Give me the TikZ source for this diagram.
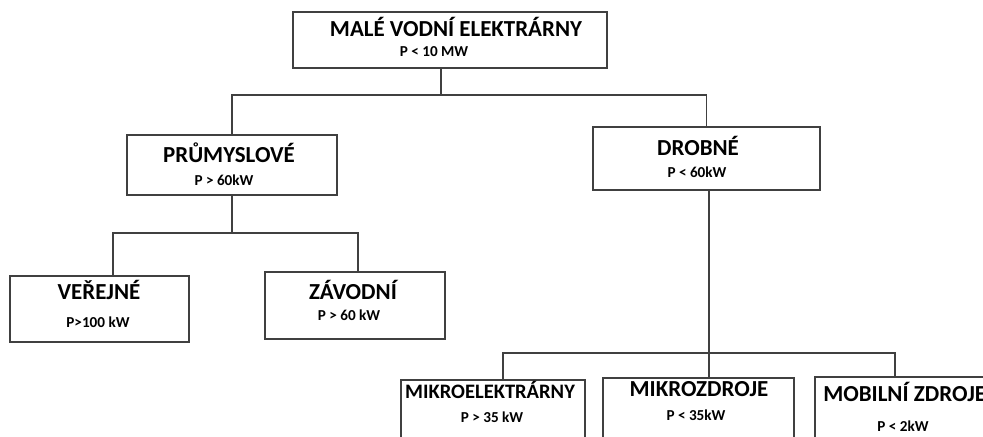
\documentclass[tikz,border=0pt]{standalone}
\usepackage{fontspec}
\setmainfont{Carlito}
\usepackage{xcolor}
\usepackage{tikz}
\definecolor{boxline}{HTML}{404040}
\tikzset{
  levelbox/.style={draw=boxline, line width=1pt, rectangle, fill=white, inner sep=0pt},
  titletext/.style={inner sep=0pt, font=\fontsize{16.3pt}{19pt}\selectfont\bfseries},
  powertext/.style={inner sep=0pt, font=\fontsize{10.8pt}{12pt}\selectfont\bfseries},
  wire/.style={draw=boxline, line width=1pt}
}

\begin{document}
\begin{tikzpicture}[x=0.025cm, y=-0.025cm]%
\useasboundingbox (0, 0) rectangle (983, 436);%
\clip (0, 0) rectangle (983, 436);%
% junctions of the bus lines
\coordinate (busTop) at (441, 95);%
\coordinate (busPrumL) at (113, 233);%
\coordinate (busPrumR) at (358, 233);%
\coordinate (busDrobL) at (503, 353);%
\coordinate (busDrobM) at (709, 353);%
\coordinate (busDrobR) at (895, 353);%
% boxes
\node[levelbox, minimum width=7.85cm, minimum height=1.4cm] (mve) at (450, 40) {};%
\node[levelbox, minimum width=5.25cm, minimum height=1.5cm] (prum) at (232, 165) {};%
\node[levelbox, minimum width=5.675cm, minimum height=1.575cm] (drob) at (706.5, 158.5) {};%
\node[levelbox, minimum width=4.475cm, minimum height=1.65cm] (verej) at (99.5, 309) {};%
\node[levelbox, minimum width=4.5cm, minimum height=1.675cm] (zavod) at (355, 305.5) {};%
\node[levelbox, minimum width=4.6cm, minimum height=1.75cm] (mikroel) at (493, 415) {};%
\node[levelbox, minimum width=4.775cm, minimum height=1.8cm] (mikroz) at (698.5, 414) {};%
\node[levelbox, minimum width=4.625cm, minimum height=1.825cm] (mobil) at (907.5, 413.5) {};%
% texts
\node[titletext] (mveT) at (456, 27) {MALÉ VODNÍ ELEKTRÁRNY};%
\node[powertext] (mveP) at (434, 52) {P < 10 MW};%
\node[titletext] (prumT) at (229, 153) {PRŮMYSLOVÉ};%
\node[powertext] (prumP) at (224, 180) {P > 60kW};%
\node[titletext] (drobT) at (698, 146) {DROBNÉ};%
\node[powertext] (drobP) at (697, 172) {P < 60kW};%
\node[titletext] (verejT) at (99, 290) {VEŘEJNÉ};%
\node[powertext] (verejP) at (98, 322) {P>100 kW};%
\node[titletext] (zavodT) at (353, 290) {ZÁVODNÍ};%
\node[powertext] (zavodP) at (349, 315) {P > 60 kW};%
\node[titletext, font=\fontsize{14.6pt}{17pt}\selectfont\bfseries] (mikroelT) at (490, 390) {MIKROELEKTRÁRNY};%
\node[powertext] (mikroelP) at (492, 417) {P > 35 kW};%
\node[titletext] (mikrozT) at (699, 389) {MIKROZDROJE};%
\node[powertext] (mikrozP) at (696, 415) {P < 35kW};%
\node[titletext, anchor=west] (mobilT) at (823, 392) {MOBILNÍ ZDROJE};%
\node[powertext] (mobilP) at (903, 426) {P < 2kW};%
% connectors
\draw[wire] (mve.south -| busTop) -- (busTop);%
\draw[wire] (prum.north) |- (busTop) -| (drob.north);%
\draw[wire] (prum.south) -- (prum.south |- busPrumL);%
\draw[wire] (verej.north -| busPrumL) -- (busPrumL) -- (busPrumR) -- (zavod.north -| busPrumR);%
\draw[wire] (drob.south -| busDrobM) -- (busDrobM);%
\draw[wire] (mikroel.north -| busDrobL) -- (busDrobL) -- (busDrobR) -- (mobil.north -| busDrobR);%
\draw[wire] (busDrobM) -- (mikroz.north -| busDrobM);%
\end{tikzpicture}
\end{document}
